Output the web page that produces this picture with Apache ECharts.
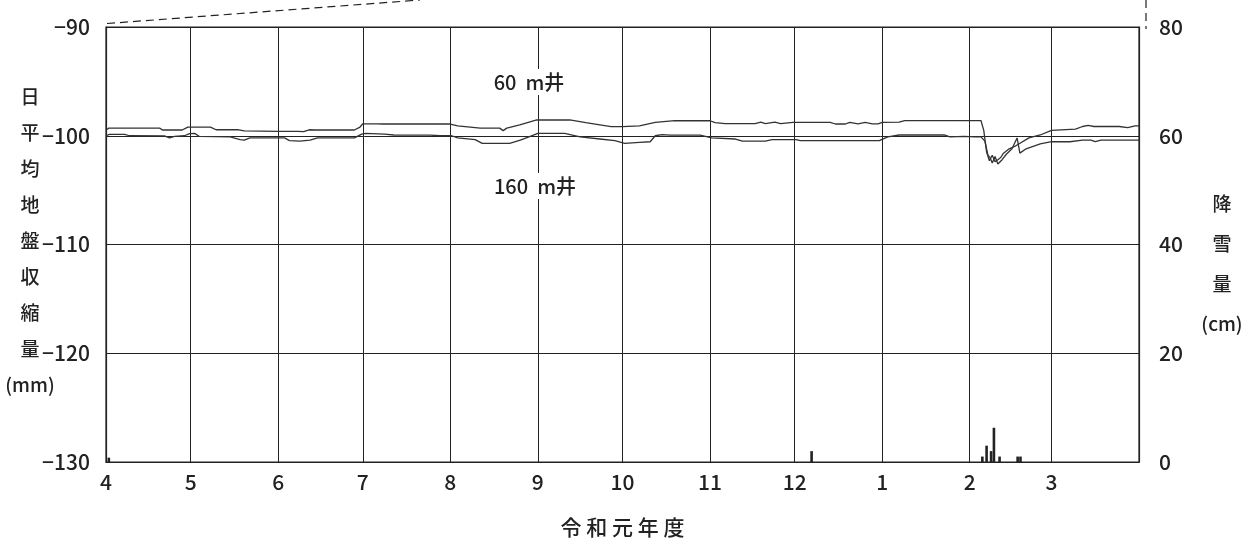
<!DOCTYPE html>
<html><head><meta charset="utf-8">
<script src="https://cdn.jsdelivr.net/npm/echarts@6/dist/echarts.min.js"></script>
<style>html,body{margin:0;padding:0;background:#fff}#c{width:1245px;height:547px}</style>
</head><body><div id="c"></div>
<script>
// Fiscal year Reiwa 1 (Apr 2019 - Mar 2020), x = day index from April 1
const monthLabels = ['4','5','6','7','8','9','10','11','12','1','2','3'];
const monthStarts = [0,30,61,91,122,153,183,214,244,275,306,335,366];

// 60 m well (daily mean ground contraction, mm)
const well60Days = [0,1,19,20,27,29,37,39,47,49,61,68,70,72,74,88,90,91,96,96.5,98,122,124.6,132.6,139.5,140.7,142,146.6,152.6,164.3,170,175,179,183,189,194.6,201.5,214,215.8,219.4,230,232,233.6,237,239,243.4,256.6,258.4,262,263.5,266.5,269,271.5,273.6,275,281,283,302.5,310,311,312,313,314,315,316,317,318,320,322.5,327,331,335,343.5,346,348,350,352,359,362,364.6,366];
const well60Values = [-99.47,-99.3,-99.3,-99.47,-99.47,-99.2,-99.2,-99.45,-99.45,-99.55,-99.6,-99.6,-99.62,-99.45,-99.47,-99.47,-99.2,-98.9,-98.9,-98.77,-98.92,-98.92,-99.1,-99.3,-99.3,-99.53,-99.3,-99.0,-98.55,-98.55,-98.8,-99.0,-99.17,-99.17,-99.1,-98.77,-98.6,-98.62,-98.8,-98.88,-98.88,-98.75,-98.88,-98.75,-98.88,-98.77,-98.77,-98.92,-98.92,-98.78,-98.9,-98.78,-98.9,-98.9,-98.77,-98.75,-98.6,-98.6,-98.6,-99.5,-101.5,-102.3,-101.8,-102.4,-102.2,-102.0,-101.6,-101.2,-100.9,-100.2,-99.93,-99.5,-99.4,-99.15,-99.05,-99.15,-99.15,-99.15,-99.25,-99.1,-99.1];

// 160 m well
const well160Days = [0,1.2,6.6,8.3,20.7,22.5,24.3,27.8,29.6,31.4,33,44,47.5,49,51,63.3,65,68.7,72.3,75,88,90.6,92,98.7,102,115,118.4,122.5,124.6,130.8,133.3,143,146.8,150.3,153,162.5,168,175,180.3,183.8,189,192.8,194.6,197,200,210.5,214.6,223,225.5,233.6,236,244.5,246,274,277,281,297,299,304,308,310,311.4,312.5,313.2,314,315,316,317.5,319,321,322.8,323.8,326,331,335,341.5,346,349,350.5,352.5,366];
const well160Values = [-100.0,-99.87,-99.87,-100.0,-100.02,-100.2,-100.05,-100.0,-99.8,-99.78,-100.05,-100.1,-100.35,-100.4,-100.2,-100.2,-100.45,-100.5,-100.4,-100.2,-100.2,-99.85,-99.78,-99.85,-99.93,-99.95,-100.0,-100.0,-100.2,-100.35,-100.7,-100.7,-100.4,-100.05,-99.78,-99.78,-100.1,-100.3,-100.45,-100.7,-100.6,-100.55,-100.0,-99.9,-99.95,-99.95,-100.2,-100.3,-100.5,-100.5,-100.35,-100.35,-100.45,-100.45,-100.1,-99.93,-99.93,-100.1,-100.05,-100.1,-100.1,-100.5,-101.8,-102.0,-102.5,-101.9,-102.6,-102.2,-101.7,-101.2,-100.2,-101.6,-101.2,-100.75,-100.55,-100.55,-100.4,-100.4,-100.55,-100.4,-100.4];

// Snowfall (cm)
const snowDays = [1,250,310.5,312,313.6,314.6,316.6,323,324];
const snowCm   = [0.8,2,1,3,2,6.3,1,1,1];

const leftTicks = [-130,-120,-110,-100,-90];
const rightTicks = [0,20,40,60,80];

const zip = (a,b) => a.map((v,i)=>[v,b[i]]);
const FONT = "'Noto Sans CJK JP','Noto Sans',sans-serif";
const INK = '#222';

const chart = echarts.init(document.getElementById('c'), null, {renderer:'canvas'});
chart.setOption({
  animation:false,
  backgroundColor:'#fff',
  grid:{left:106,right:106,top:27,bottom:85,show:true,borderColor:INK,borderWidth:1.2,backgroundColor:'transparent'},
  xAxis:{
    type:'value', min:0, max:366,
    axisLine:{show:true,lineStyle:{color:INK,width:1.2}},
    axisTick:{show:false, customValues: monthStarts},
    axisLabel:{customValues: monthStarts.slice(0,12), color:INK, fontFamily:FONT, fontWeight:500, fontSize:21, margin:10,
      formatter:(v)=>monthLabels[monthStarts.indexOf(v)]},
    splitLine:{show:true,lineStyle:{color:INK,width:1}},
    name:'令 和 元 年 度', nameLocation:'middle', nameGap:55,
    nameTextStyle:{color:INK,fontFamily:FONT,fontWeight:500,fontSize:21}
  },
  yAxis:[{
    type:'value', min:leftTicks[0], max:leftTicks[leftTicks.length-1], interval:10,
    axisLine:{show:true,lineStyle:{color:INK,width:1.2}},
    axisTick:{show:false},
    axisLabel:{color:INK,fontFamily:FONT,fontWeight:500,fontSize:21,margin:16,formatter:(v)=>String(v).replace('-','−')},
    splitLine:{show:true,lineStyle:{color:INK,width:1}}
  },{
    type:'value', min:rightTicks[0], max:rightTicks[rightTicks.length-1], interval:20,
    position:'right',
    axisLine:{show:true,lineStyle:{color:INK,width:1.2}},
    axisTick:{show:false},
    axisLabel:{color:INK,fontFamily:FONT,fontWeight:500,fontSize:21,margin:20},
    splitLine:{show:false}
  }],
  series:[
    {name:'60 m井',type:'line',data:zip(well60Days,well60Values),showSymbol:false,symbol:'none',
      lineStyle:{color:'#333',width:1.3},z:5},
    {name:'160 m井',type:'line',data:zip(well160Days,well160Values),showSymbol:false,symbol:'none',
      lineStyle:{color:'#333',width:1.3},z:5},
    {name:'降雪量',type:'bar',yAxisIndex:1,data:zip(snowDays,snowCm),barWidth:2.6,
      itemStyle:{color:INK},z:4}
  ],
  graphic:[
    {type:'text',style:{text:'日\n平\n均\n地\n盤\n収\n縮\n量\n(mm)',x:30,y:241,
      textAlign:'center',textVerticalAlign:'middle',font:'500 19px '+FONT,lineHeight:36,fill:INK}},
    {type:'text',style:{text:'降\n雪\n量\n(cm)',x:1222,y:264,
      textAlign:'center',textVerticalAlign:'middle',font:'500 19px '+FONT,lineHeight:40,fill:INK}},
    {type:'text',z:10,style:{text:'60  m井',x:529,y:82,textAlign:'center',textVerticalAlign:'middle',
      font:'500 20px '+FONT,fill:INK,backgroundColor:'#fff',padding:[3,3]}},
    {type:'text',z:10,style:{text:'160  m井',x:535,y:186,textAlign:'center',textVerticalAlign:'middle',
      font:'500 20px '+FONT,fill:INK,backgroundColor:'#fff',padding:[3,3]}},
    {type:'line',shape:{x1:107,y1:23.5,x2:420,y2:0},style:{stroke:INK,lineWidth:1.2,lineDash:[8,5]}},
    {type:'line',shape:{x1:1146,y1:0,x2:1146,y2:29},style:{stroke:INK,lineWidth:1.2,lineDash:[8,5]}}
  ]
});
</script></body></html>
